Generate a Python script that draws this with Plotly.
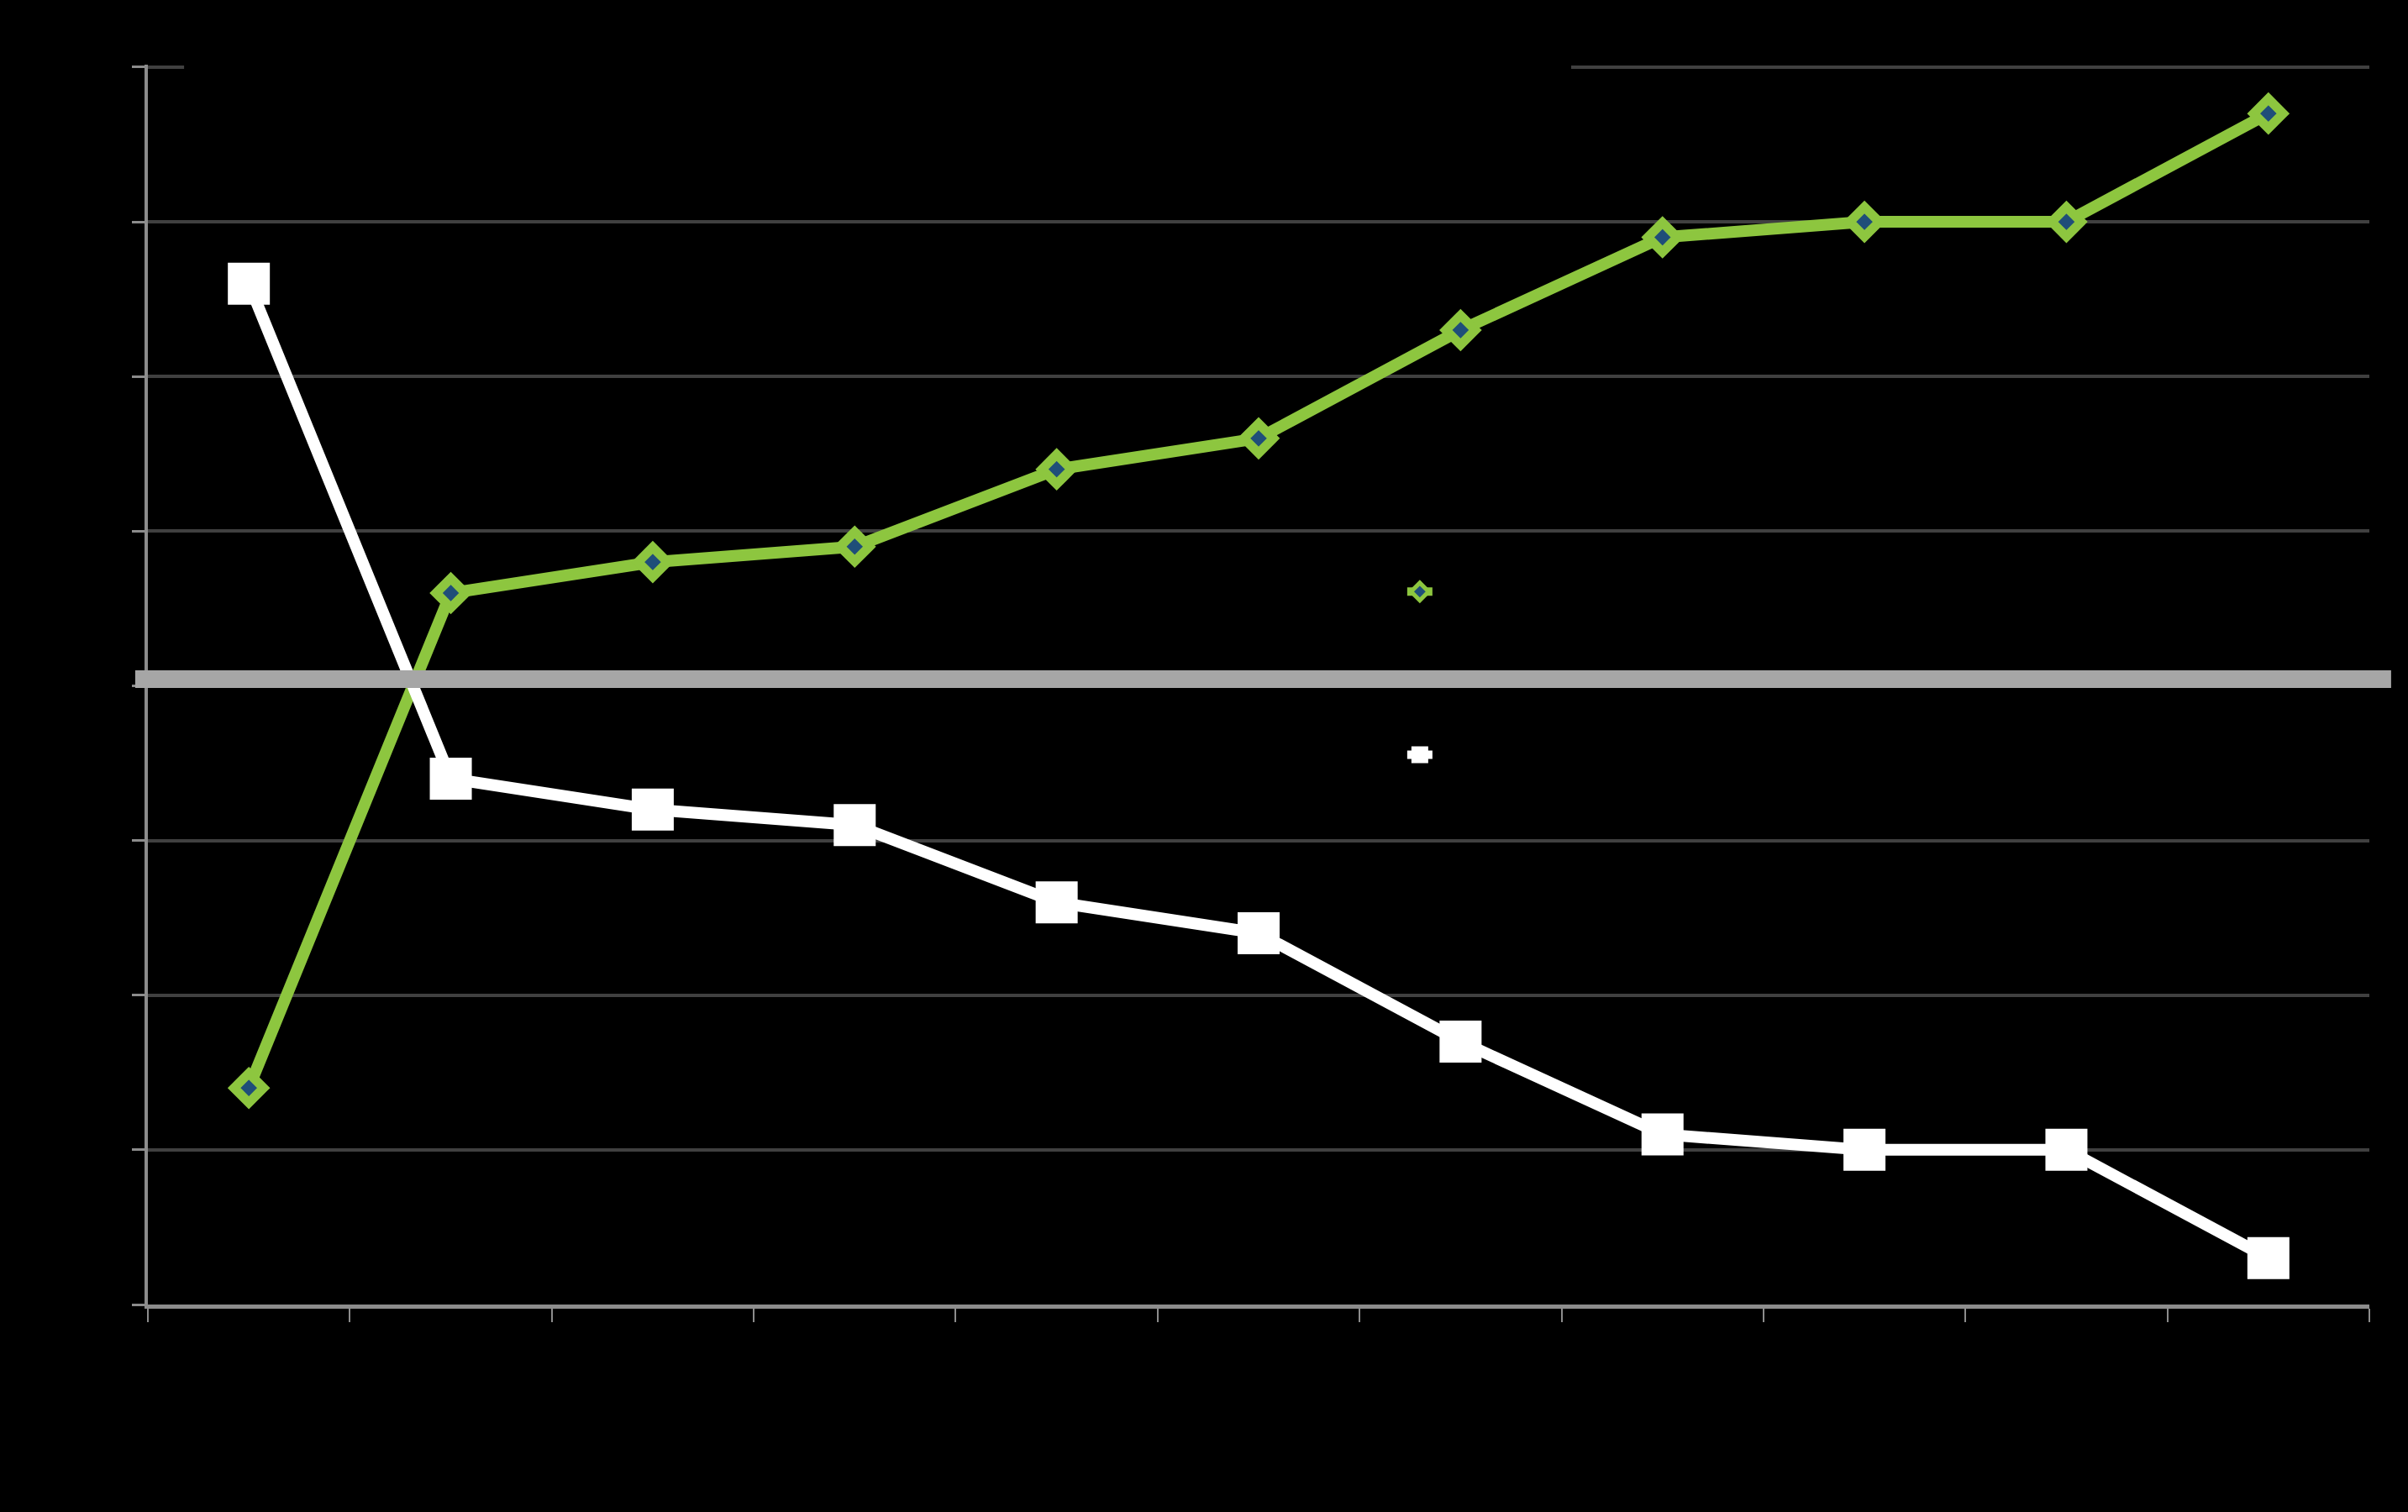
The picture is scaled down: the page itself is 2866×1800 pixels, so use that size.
import plotly.graph_objects as go

categories = ["1", "2", "3", "4", "5", "6", "7", "8", "9", "10", "11"]
series_a_name = "Series 1"
series_a = [-2.6, 0.6, 0.8, 0.9, 1.4, 1.6, 2.3, 2.9, 3.0, 3.0, 3.7]
series_b_name = "Series 2"
series_b = [2.6, -0.6, -0.8, -0.9, -1.4, -1.6, -2.3, -2.9, -3.0, -3.0, -3.7]
y_ticks = [-4, -3, -2, -1, 0, 1, 2, 3, 4]

GREEN = "#8DC63F"
NAVY = "#1F4E79"
WHITE = "#FFFFFF"
GRID = "#404040"
AXIS = "#8C8C8C"

fig = go.Figure()
fig.add_trace(go.Scatter(
    x=categories, y=series_a, name=series_a_name, mode="lines+markers",
    legendgroup="a",
    line=dict(color=GREEN, width=14),
    marker=dict(symbol="diamond", size=27, color=NAVY,
                line=dict(color=GREEN, width=11)),
))
fig.add_trace(go.Scatter(
    x=categories, y=series_b, name=series_b_name, mode="lines+markers",
    legendgroup="b",
    line=dict(color=WHITE, width=14),
    marker=dict(symbol="square", size=46, color=WHITE,
                line=dict(color=WHITE, width=4)),
))

fig.update_layout(
    template="none",
    width=2866, height=1800,
    paper_bgcolor="black", plot_bgcolor="black",
    margin=dict(l=176, r=46, t=77, b=247, autoexpand=False),
    font=dict(family="Liberation Sans, Arial, sans-serif", color="black", size=24),
    showlegend=True,
    legend=dict(
        x=0.565, y=0.590, xanchor="left", yanchor="top",
        bgcolor="rgba(0,0,0,0)", font=dict(color="black", size=24),
        traceorder="grouped", tracegroupgap=160,
    ),
    xaxis=dict(
        type="category", range=[-0.5, 10.5], autorange=False,
        showgrid=False, zeroline=False,
        showline=True, linecolor=AXIS, linewidth=5,
        ticks="outside", tickson="boundaries", ticklen=16, tickwidth=2,
        tickcolor=AXIS, tickfont=dict(color="black", size=24),
        automargin=False,
    ),
    yaxis=dict(
        range=[-4, 4.016], autorange=False, tickvals=y_ticks, showgrid=True,
        gridcolor=GRID, gridwidth=4, zeroline=False,
        showline=True, linecolor=AXIS, linewidth=4,
        ticks="outside", ticklen=15, tickwidth=3, tickcolor=AXIS,
        tickfont=dict(color="black", size=24), automargin=False,
    ),
    shapes=[
        dict(type="line", xref="paper", yref="y", x0=-0.0057, x1=1.0098,
             y0=0.043, y1=0.043, line=dict(color="#A6A6A6", width=21),
             layer="above"),
        dict(type="rect", xref="paper", yref="paper", x0=0.0163, x1=0.6407,
             y0=0.98, y1=1.02, fillcolor="black", line=dict(width=0),
             layer="above"),
    ],
)

fig.write_html(
    "out.html",
    config={"displayModeBar": False},
    post_script="document.body.style.margin='0';document.body.style.background='black';document.body.style.overflow='hidden';",
)
